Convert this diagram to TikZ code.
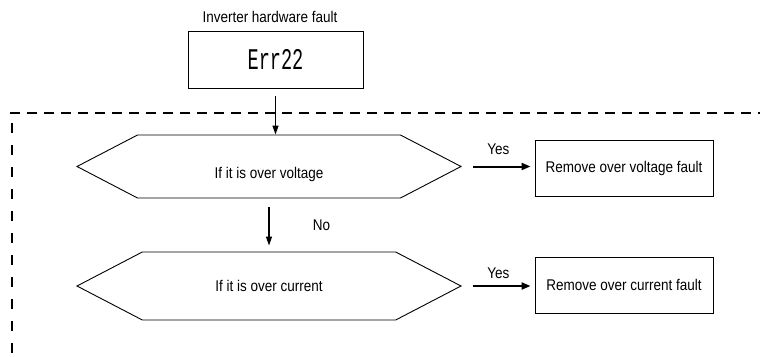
\documentclass[tikz,border=0pt]{standalone}
\usepackage{fontspec}
\setmainfont{Liberation Sans}[FakeStretch=0.87]
\newfontfamily\errfont{Liberation Mono}[FakeStretch=0.62]
\usepackage{tikz}
\usetikzlibrary{arrows.meta,positioning,calc,shapes.symbols}
\tikzset{
  stepbox/.style={draw,line width=0.9pt,minimum width=175pt,minimum height=57pt,inner sep=0pt},
  resbox/.style={draw,line width=0.9pt,minimum width=178pt,minimum height=56pt,inner sep=0pt},
  decide/.style={draw,line width=0.9pt,signal,signal to=west and east,signal pointer angle=55,
    minimum width=384pt,inner sep=0pt},
  flowarr/.style={-{Triangle[length=9pt,width=6pt]},line width=1.3pt},
  yesarr/.style={-{Triangle[length=9pt,width=7pt]},line width=2pt},
  frameh/.style={line width=1.5pt,dash pattern=on 10pt off 7pt},
  framev/.style={line width=1.5pt,dash pattern=on 10pt off 12pt},
  tlab/.style={font=\fontsize{15.5}{18}\selectfont},
}

\begin{document}
\begin{tikzpicture}[x=1pt,y=-1pt,tlab]
        \useasboundingbox (0,0) rectangle (760,356);
        % head box
        \node[tlab] (title) at (270,17) {Inverter hardware fault};
        \node[stepbox] (errbox) at (275.5,59.5) {\errfont\fontsize{30}{30}\selectfont Err22};
        % dashed frame
        \coordinate (fa) at (10,113);
        \coordinate (fb) at (760,113);
        \coordinate (fc) at (12,123);
        \coordinate (fd) at (12,356);
        \draw[frameh] (fa) -- (fb);
        \draw[framev] (fc) -- (fd);
        % decisions
        \node[decide,minimum height=63pt,text height=26pt,text depth=3pt] (hexA) at (269,166.5) {If it is over voltage};
        \node[decide,minimum height=68pt] (hexB) at (269,286) {If it is over current};
        \node[resbox] (remA) at (624,168) {Remove over voltage fault};
        \node[resbox] (remB) at (624,285) {Remove over current fault};
        % connectors
        \draw[flowarr,shorten <=8pt] (errbox.south) -- (errbox.south |- hexA.north);
        \draw[flowarr,shorten <=9pt,shorten >=6pt] (hexA.south) -- (hexB.north)
              node[midway,right=40pt,tlab]{No};
        \draw[yesarr,shorten <=11pt,shorten >=4pt] (hexA.east) -- (remA.west |- hexA.east)
              node[midway,above=8pt,tlab]{Yes};
        \draw[yesarr,shorten <=11pt,shorten >=4pt] (hexB.east) -- (remB.west |- hexB.east)
              node[midway,above=3pt,tlab]{Yes};
      \end{tikzpicture}
\end{document}
